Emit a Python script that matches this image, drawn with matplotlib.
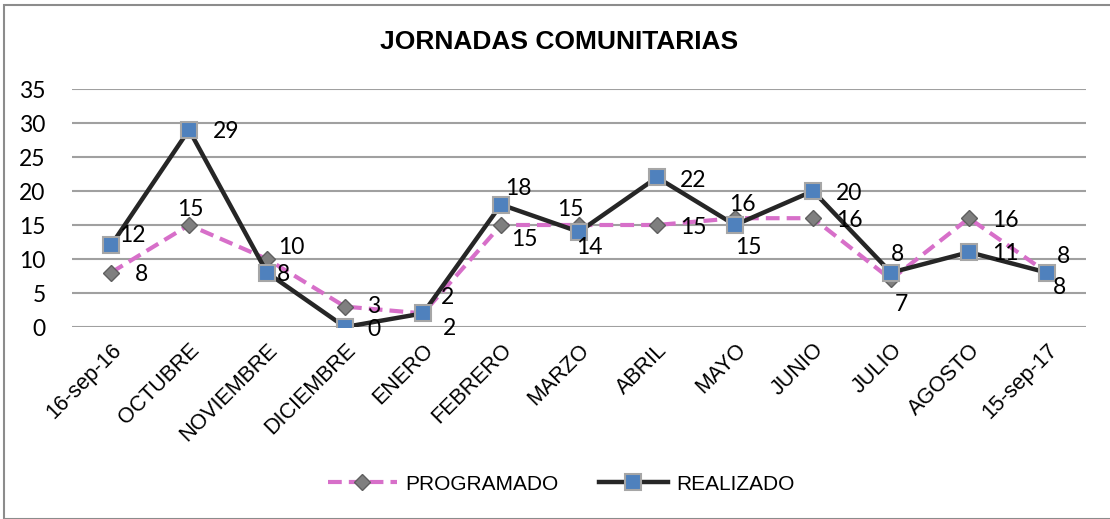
import matplotlib.pyplot as plt
from matplotlib.patches import Rectangle

categorias = ["16-sep-16", "OCTUBRE", "NOVIEMBRE", "DICIEMBRE", "ENERO", "FEBRERO",
              "MARZO", "ABRIL", "MAYO", "JUNIO", "JULIO", "AGOSTO", "15-sep-17"]
programado = [8, 15, 10, 3, 2, 15, 15, 15, 16, 16, 7, 16, 8]
realizado = [12, 29, 8, 0, 2, 18, 14, 22, 15, 20, 8, 11, 8]

# label offsets in pixels (dx right, dy down) for each point
off_prog = [(30, 2), (1, -15), (24, -12), (29, 0), (27, 15), (23, 14), (-9, -16),
            (36, 2), (7, -14), (36, 2), (10, 25), (36, 2), (16, -16)]
off_real = [(21, -10), (37, 2), (17, 2), (29, 2), (24, -16), (17, -16), (10, 16),
            (36, 3), (13, 23), (36, 2), (6, -18), (36, 1), (13, 15)]

W, H = 1110, 519
fig = plt.figure(figsize=(W / 100, H / 100), dpi=100)
ax = fig.add_axes([72 / W, 1 - 327 / H, (1086 - 72) / W, (327 - 89) / H])

x = list(range(len(categorias)))
ax.plot(x, programado, color="#D76FC9", lw=3, ls=(0, (3.3, 1.7)), marker="D",
        ms=8, mfc="#7F7F7F", mec="#5F5F5F", mew=1, label="PROGRAMADO", zorder=3)
ax.plot(x, realizado, color="#262626", lw=3.2, marker="s",
        ms=11, mfc="#4F81BD", mec="#A6A6A6", mew=1.5, label="REALIZADO", zorder=4)

num_font = dict(family="Lato", fontsize=16.5, color="black")
for xi, v, (dx, dy) in zip(x, programado, off_prog):
    ax.annotate(str(v), (xi, v), xytext=(dx * 0.72, -dy * 0.72), textcoords="offset points",
                ha="center", va="center", zorder=5, **num_font)
for xi, v, (dx, dy) in zip(x, realizado, off_real):
    ax.annotate(str(v), (xi, v), xytext=(dx * 0.72, -dy * 0.72), textcoords="offset points",
                ha="center", va="center", zorder=5, **num_font)

ax.set_xlim(-0.5, len(categorias) - 0.5)
ax.set_ylim(0, 35)
ax.set_yticks(range(0, 36, 5))
ax.yaxis.grid(True, color="#A0A0A0", lw=1.5)
ax.set_axisbelow(True)
for s in ax.spines.values():
    s.set_visible(False)
ax.tick_params(axis="both", length=0)
ax.tick_params(axis="y", pad=19)
for t in ax.get_yticklabels():
    t.set_fontfamily("Lato")
    t.set_fontsize(16.5)
ax.set_xticks(x)
ax.set_xticklabels(categorias, rotation=45, ha="right", va="top", rotation_mode="anchor",
                   fontfamily="Liberation Sans", fontsize=15.5)
ax.tick_params(axis="x", pad=9)

fig.text(559 / W, 1 - 42 / H, "JORNADAS COMUNITARIAS", ha="center", va="center",
         fontfamily="Liberation Sans", fontweight="bold", fontsize=19)

fig.legend(loc="center", bbox_to_anchor=(561 / W, 1 - 484 / H), ncol=2, frameon=False,
           prop=dict(family="Liberation Sans", size=15), handlelength=3.3,
           columnspacing=1.95, handletextpad=0.4)

fig.patches.append(Rectangle((4 / W, 0), 1.2, 1 - 5 / H, transform=fig.transFigure,
                             fill=False, ec="#8C8C8C", lw=1.5))

fig.savefig("out.png", dpi=100)
